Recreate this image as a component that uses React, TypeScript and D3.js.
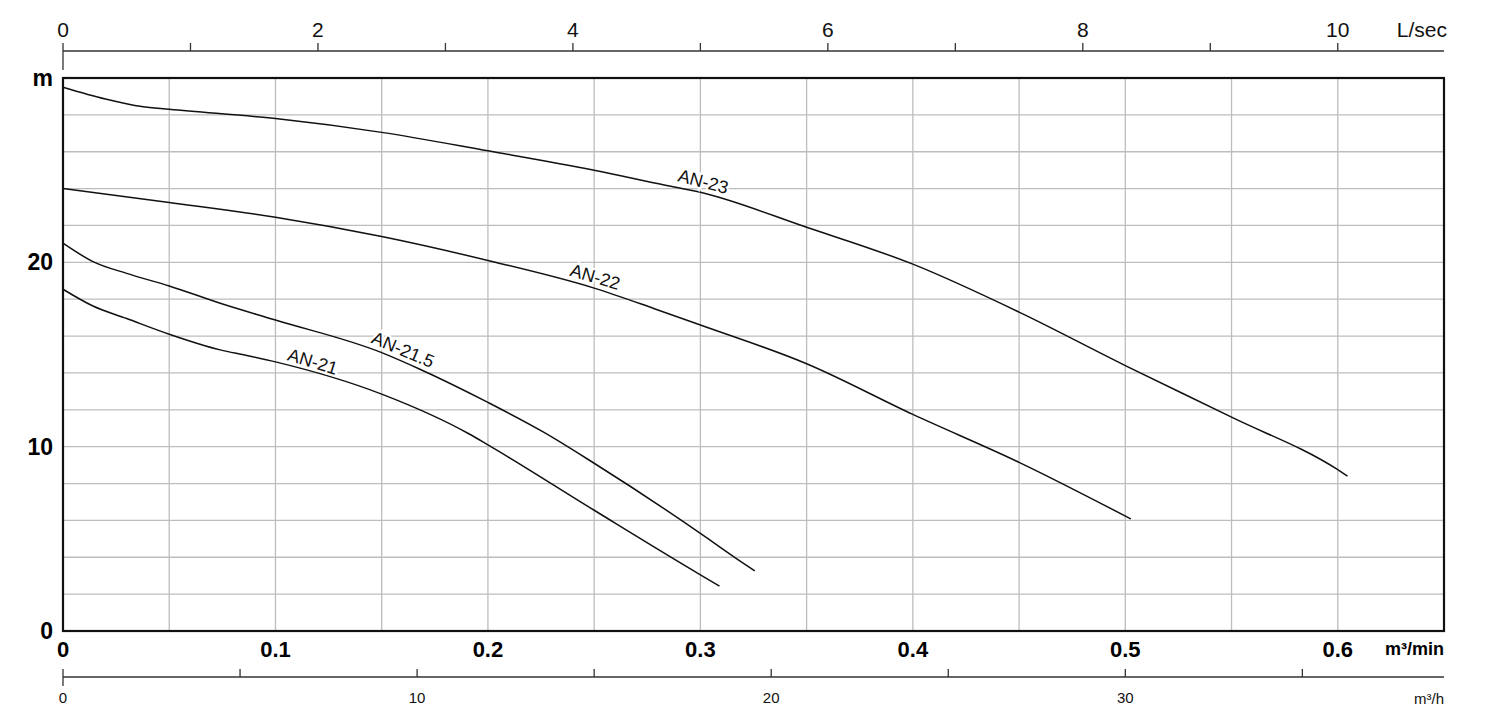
import { useMemo } from 'react';
import { scaleLinear, line, curveMonotoneX, range } from 'd3';

// flow in m³/min, head in m
const an23Flow = [0, 0.02, 0.037, 0.05, 0.1, 0.15, 0.2, 0.25, 0.283, 0.3, 0.35, 0.4, 0.45, 0.5, 0.55, 0.6, 0.6046];
const an23Head = [29.5, 28.86, 28.45, 28.3, 27.8, 27.05, 26.05, 25.0, 24.2, 23.8, 21.9, 19.9, 17.3, 14.4, 11.6, 8.75, 8.4];

const an22Flow = [0, 0.05, 0.1, 0.15, 0.2, 0.25, 0.278, 0.3, 0.35, 0.4, 0.45, 0.5026];
const an22Head = [24.0, 23.25, 22.45, 21.4, 20.1, 18.6, 17.5, 16.6, 14.5, 11.75, 9.15, 6.08];

const an215Flow = [0, 0.0141, 0.03, 0.05, 0.074, 0.1, 0.15, 0.168, 0.2, 0.226, 0.25, 0.3, 0.318, 0.3256];
const an215Head = [21.04, 20.04, 19.4, 18.72, 17.78, 16.87, 15.1, 14.2, 12.4, 10.8, 9.1, 5.3, 3.85, 3.26];

const an21Flow = [0, 0.0141, 0.03, 0.05, 0.074, 0.0865, 0.1, 0.15, 0.191, 0.2, 0.25, 0.3, 0.309];
const an21Head = [18.54, 17.63, 16.95, 16.1, 15.25, 14.95, 14.6, 12.85, 10.7, 10.1, 6.55, 3.05, 2.44];

const curveNames = ['AN-23', 'AN-22', 'AN-21.5', 'AN-21'];
const labelFlow = [0.3, 0.249, 0.158, 0.116];

const minTickLabels = [0, 0.1, 0.2, 0.3, 0.4, 0.5, 0.6];
const headTickLabels = [0, 10, 20];
const lsecTickLabels = [0, 2, 4, 6, 8, 10];
const m3hTickLabels = [0, 10, 20, 30];

const FONT = '"Liberation Sans", Arial, sans-serif';

const left = 63;
const right = 1444;
const top = 78;
const bottom = 631;

const interp = (xs: number[], ys: number[], x: number) => {
  for (let i = 1; i < xs.length; i++) {
    if (x <= xs[i]) {
      const t = (x - xs[i - 1]) / (xs[i] - xs[i - 1]);
      return ys[i - 1] + t * (ys[i] - ys[i - 1]);
    }
  }
  return ys[ys.length - 1];
};

const App = () => {
  const x = useMemo(() => scaleLinear().domain([0, 0.65]).range([left, right]), []);
  const y = useMemo(() => scaleLinear().domain([0, 30]).range([bottom, top]), []);
  // 1 L/sec = 0.06 m³/min, 1 m³/h = 1/60 m³/min
  const xLs = useMemo(() => scaleLinear().domain([0, 0.65 / 0.06]).range([left, right]), []);
  const xM3h = useMemo(() => scaleLinear().domain([0, 0.65 * 60]).range([left, right]), []);

  const series = [
    [an23Flow, an23Head],
    [an22Flow, an22Head],
    [an215Flow, an215Head],
    [an21Flow, an21Head],
  ];

  const lineGen = line<[number, number]>()
    .x((d) => x(d[0]))
    .y((d) => y(d[1]))
    .curve(curveMonotoneX);

  const vGrid = range(0.05, 0.65, 0.05);
  const hGrid = range(2, 30, 2);

  const topAxisY = 51;
  const botAxisY = 677;

  return (
    <svg
      width={1500}
      height={720}
      style={{ position: 'absolute', left: 0, top: 0, background: 'white' }}
      fontFamily={FONT}
    >
      {/* grid */}
      {vGrid.map((v) => (
        <line key={'v' + v} x1={x(v)} x2={x(v)} y1={top} y2={bottom} stroke="#bdbdbd" strokeWidth={1.3} />
      ))}
      {hGrid.map((h) => (
        <line key={'h' + h} x1={left} x2={right} y1={y(h)} y2={y(h)} stroke="#bdbdbd" strokeWidth={1.3} />
      ))}

      {/* curves */}
      {series.map(([fx, hy], i) => (
        <path
          key={curveNames[i]}
          d={lineGen(fx.map((f, j) => [f, hy[j]] as [number, number])) || ''}
          fill="none"
          stroke="#111"
          strokeWidth={1.5}
        />
      ))}

      {/* curve labels */}
      {series.map(([fx, hy], i) => {
        const f = labelFlow[i];
        const px = x(f);
        const py = y(interp(fx, hy, f));
        const dx = x(f + 0.01) - x(f - 0.01);
        const dy = y(interp(fx, hy, f + 0.01)) - y(interp(fx, hy, f - 0.01));
        const ang = (Math.atan2(dy, dx) * 180) / Math.PI;
        return (
          <text
            key={'l' + curveNames[i]}
            transform={`translate(${px},${py}) rotate(${ang}) translate(0,-5)`}
            textAnchor="middle"
            fontSize={18}
            fill="#111"
            stroke="white"
            strokeWidth={4}
            paintOrder="stroke"
          >
            {curveNames[i]}
          </text>
        );
      })}

      {/* frame */}
      <rect x={left} y={top} width={right - left} height={bottom - top} fill="none" stroke="#111" strokeWidth={2.2} />

      {/* head axis labels */}
      {headTickLabels.map((h) => (
        <text key={'y' + h} x={53} y={y(h)} textAnchor="end" dominantBaseline="central" fontSize={23} fontWeight="bold">
          {h}
        </text>
      ))}
      <text x={53} y={top} textAnchor="end" dominantBaseline="central" fontSize={23} fontWeight="bold">
        m
      </text>

      {/* m³/min labels */}
      {minTickLabels.map((v) => (
        <text key={'m' + v} x={x(v)} y={649} textAnchor="middle" dominantBaseline="central" fontSize={22} fontWeight="bold">
          {v}
        </text>
      ))}
      <text x={right} y={649} textAnchor="end" dominantBaseline="central" fontSize={18} fontWeight="bold">
        m³/min
      </text>

      {/* top L/sec axis */}
      <line x1={left} x2={right} y1={topAxisY} y2={topAxisY} stroke="#333" strokeWidth={1.3} />
      {range(0, 11, 1).map((v) => (
        <line
          key={'t' + v}
          x1={xLs(v)}
          x2={xLs(v)}
          y1={topAxisY - 8}
          y2={v === 0 ? topAxisY + 19 : topAxisY}
          stroke="#333"
          strokeWidth={1.3}
        />
      ))}
      {lsecTickLabels.map((v) => (
        <text key={'tl' + v} x={xLs(v)} y={29} textAnchor="middle" dominantBaseline="central" fontSize={21} fill="#111">
          {v}
        </text>
      ))}
      <text x={right + 3} y={29} textAnchor="end" dominantBaseline="central" fontSize={21} fill="#111">
        L/sec
      </text>

      {/* bottom m³/h axis */}
      <line x1={left} x2={right} y1={botAxisY} y2={botAxisY} stroke="#333" strokeWidth={1.3} />
      {range(0, 36, 5).map((v) => (
        <line
          key={'b' + v}
          x1={xM3h(v)}
          x2={xM3h(v)}
          y1={botAxisY - 8}
          y2={v === 0 ? botAxisY + 9 : botAxisY}
          stroke="#333"
          strokeWidth={1.3}
        />
      ))}
      {m3hTickLabels.map((v) => (
        <text key={'bl' + v} x={xM3h(v)} y={697} textAnchor="middle" dominantBaseline="central" fontSize={15} fill="#111">
          {v}
        </text>
      ))}
      <text x={right} y={698} textAnchor="end" dominantBaseline="central" fontSize={15} fill="#111">
        m³/h
      </text>
    </svg>
  );
};

export default App;
